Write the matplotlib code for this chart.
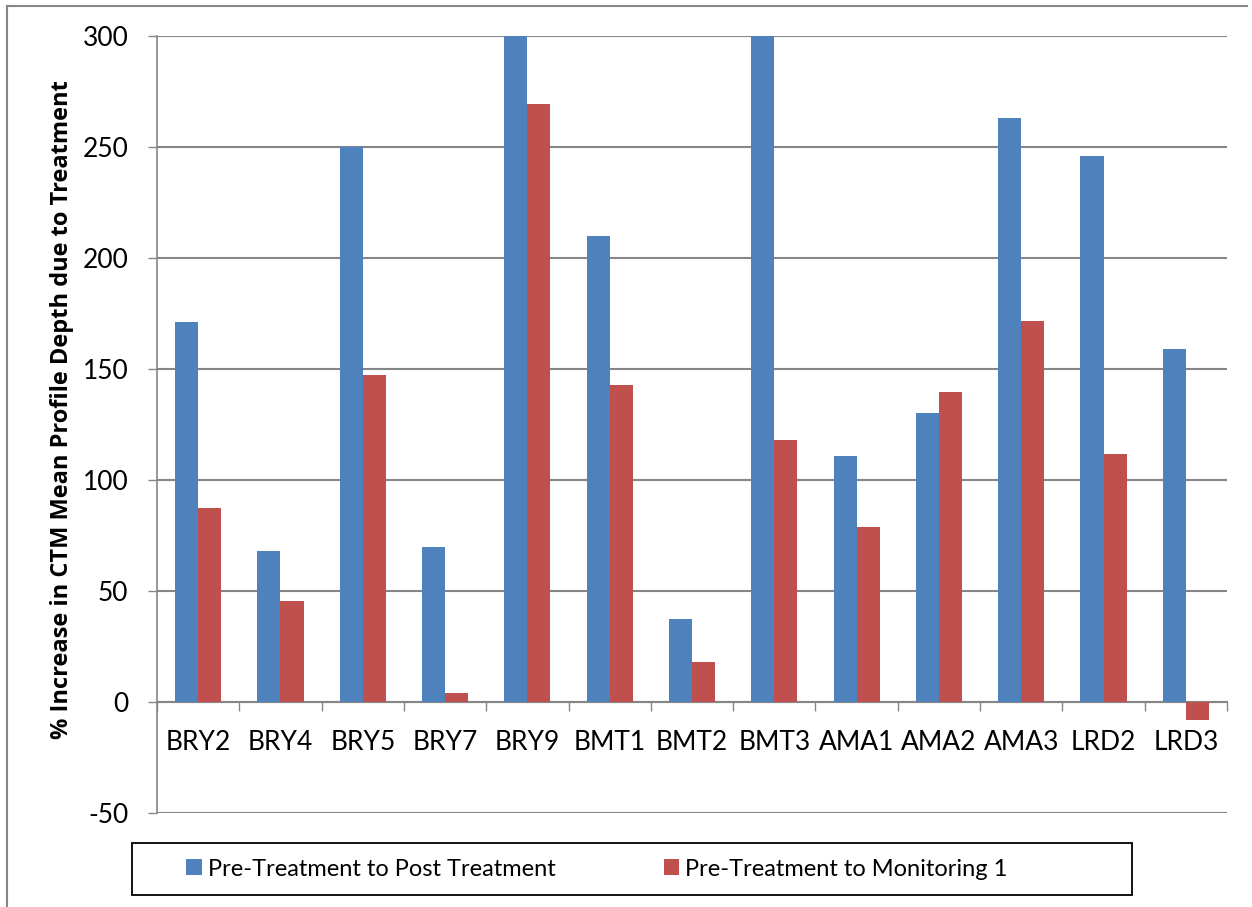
import matplotlib
matplotlib.use('Agg')
import matplotlib.pyplot as plt
import numpy as np
from matplotlib.lines import Line2D

#####################################################################
# data:
sites = ['BRY2', 'BRY4', 'BRY5', 'BRY7', 'BRY9', 'BMT1', 'BMT2',
         'BMT3', 'AMA1', 'AMA2', 'AMA3', 'LRD2', 'LRD3']
post_treat = [171, 68, 250, 70, 330, 210, 37.5, 320, 111, 130, 263, 246, 159]
monitor_1 = [87.5, 45.5, 147.5, 4, 269.5, 143, 18, 118, 79, 139.5, 171.5, 111.5, -8]
labels = ['Pre-Treatment to Post Treatment', 'Pre-Treatment to Monitoring 1']
colors = ['#4F81BD', '#C0504D']
yticks = [-50, 0, 50, 100, 150, 200, 250, 300]

plt.rcParams['font.family'] = ['Lato', 'DejaVu Sans']
plt.rcParams['axes.unicode_minus'] = False

#####################################################################
# plot:
W, H = 1252, 907
fig = plt.figure(figsize=(W / 100, H / 100), dpi=100)
ax = fig.add_axes([157 / W, 1 - 813 / H, (1227 - 157) / W, (813 - 36) / H])

x = np.arange(len(sites))
bw = 0.28
ax.bar(x - bw / 2, post_treat, bw, color=colors[0], label=labels[0], zorder=3)
ax.bar(x + bw / 2, monitor_1, bw, color=colors[1], label=labels[1], zorder=3)

#####################################################################
# format:
grey = '#868686'
ax.set_xlim(-0.5, len(sites) - 0.5)
ax.set_ylim(-50, 300)
ax.set_yticks(yticks)
ax.yaxis.grid(True, color=grey, linewidth=1.5, zorder=0)
ax.tick_params(axis='y', length=6.5, width=1, color=grey, pad=14, labelsize=19)

for s in ['top', 'right']:
    ax.spines[s].set_visible(False)
ax.spines['left'].set_color(grey)
ax.spines['left'].set_linewidth(1.2)
ax.spines['bottom'].set_position(('data', 0))
ax.spines['bottom'].set_color(grey)
ax.spines['bottom'].set_linewidth(1.5)

ax.set_xticks(x)
ax.set_xticklabels(sites)
ax.set_xticks(np.arange(len(sites) + 1) - 0.5, minor=True)
ax.tick_params(axis='x', which='major', length=0, pad=20, labelsize=19)
ax.tick_params(axis='x', which='minor', length=6.5, width=1, color=grey)

fig.text(62 / W, 1 - 410 / H, '% Increase in CTM Mean Profile Depth due to Treatment',
         rotation=90, ha='center', va='center', fontsize=17, fontweight='bold',
         family=['Open Sans', 'DejaVu Sans'])

leg = fig.legend(loc='center', bbox_to_anchor=(597 / W, 1 - 869 / H),
                 ncol=2, fontsize=17, frameon=False,
                 handlelength=0.65, handleheight=0.65, handletextpad=0.25,
                 columnspacing=4.6)
# legend frame box
fig.patches.append(plt.Rectangle((132 / W, 1 - 895 / H), 1000 / W, 52 / H,
                                 transform=fig.transFigure, fill=False,
                                 edgecolor='black', linewidth=1.3))

# outer chart border
fig.add_artist(Line2D([7 / W, 7 / W], [0, 1 - 6 / H], color=grey, lw=1.5))
fig.add_artist(Line2D([7 / W, 1247 / W], [1 - 6 / H, 1 - 6 / H], color=grey, lw=1.5))

fig.savefig('out.png', dpi=100)
